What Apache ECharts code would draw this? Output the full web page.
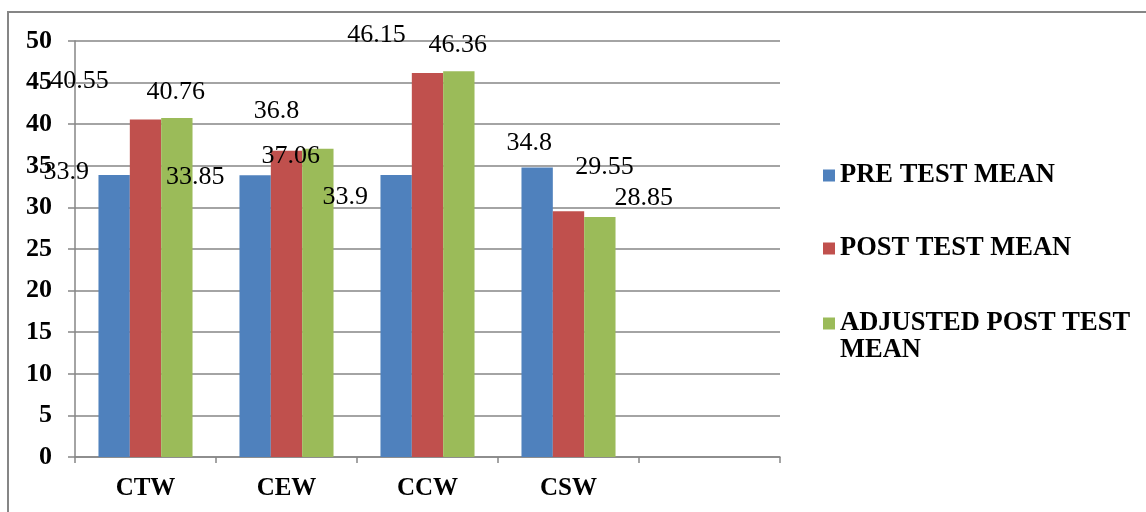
<!DOCTYPE html>
<html>
<head>
<meta charset="utf-8">
<script src="https://cdn.jsdelivr.net/npm/echarts@6/dist/echarts.min.js"></script>
<style>
  html, body { margin: 0; padding: 0; background: #fff; }
  #chart { width: 1146px; height: 512px; }
</style>
</head>
<body>
<div id="chart"></div>
<script>
// Category names (the last slot is an empty group)
const categories = ['CTW', 'CEW', 'CCW', 'CSW', ''];

// Mean scores per group
const preTestMean = [33.9, 33.85, 33.9, 34.8];
const postTestMean = [40.55, 36.8, 46.15, 29.55];
const adjustedPostTestMean = [40.76, 37.06, 46.36, 28.85];

// Value axis range
const yMin = 0;
const yMax = 50;
const yStep = 5;

// Hand-placed value label shifts [dx, dy] from each bar's top centre
const preLabelShift = [[-48, -3], [-60, 2], [-51, 22], [-8, -24]];
const postLabelShift = [[-66, -38], [-10, -40], [-51, -38], [36, -44]];
const adjLabelShift = [[-1, -26], [-27, 8], [-1, -26], [44, -19]];

const serif = "'Liberation Serif', 'Times New Roman', serif";
const gridGray = '#868686';

function withLabels(values, shifts) {
  return values.map((v, i) => ({ value: v, label: { offset: shifts[i] } }));
}

const valueLabel = {
  show: true,
  position: 'top',
  distance: 0,
  align: 'center',
  verticalAlign: 'middle',
  color: '#000',
  fontFamily: serif,
  fontSize: 26,
  lineHeight: 26
};

const legendText = {
  color: '#000',
  fontFamily: serif,
  fontWeight: 'bold',
  fontSize: 26.5,
  lineHeight: 27
};

function legendAt(name, top, formatter) {
  const l = {
    data: [name],
    left: 823,
    top: top,
    orient: 'vertical',
    icon: 'rect',
    itemWidth: 12,
    itemHeight: 12,
    itemGap: 0,
    padding: 0,
    selectedMode: false,
    textStyle: legendText
  };
  if (formatter) l.formatter = formatter;
  return l;
}

const chart = echarts.init(document.getElementById('chart'), null, { renderer: 'canvas' });

chart.setOption({
  animation: false,
  backgroundColor: '#fff',
  grid: { left: 75, right: 366, top: 41, bottom: 55, containLabel: false },
  graphic: [{
    type: 'polyline',
    shape: { points: [[8, 530], [8, 12], [1160, 12]] },
    style: { stroke: gridGray, lineWidth: 2, fill: null },
    silent: true
  }],
  legend: [
    legendAt('PRE TEST MEAN', 162),
    legendAt('POST TEST MEAN', 235),
    legendAt('ADJUSTED POST TEST MEAN', 283, function () { return '\nADJUSTED POST TEST\nMEAN'; })
  ],
  xAxis: {
    type: 'category',
    data: categories,
    boundaryGap: true,
    axisLine: { show: true, lineStyle: { color: gridGray, width: 1.5 } },
    axisTick: { show: true, alignWithLabel: false, interval: 0, length: 6, lineStyle: { color: gridGray, width: 1.5 } },
    axisLabel: {
      margin: 19,
      color: '#000',
      fontFamily: serif,
      fontWeight: 'bold',
      fontSize: 25,
      interval: 0
    },
    splitLine: { show: false }
  },
  yAxis: {
    type: 'value',
    min: yMin,
    max: yMax,
    interval: yStep,
    axisLine: { show: true, lineStyle: { color: gridGray, width: 1.5 } },
    axisTick: { show: true, length: 7, lineStyle: { color: gridGray, width: 1.5 } },
    axisLabel: {
      margin: 23,
      color: '#000',
      fontFamily: serif,
      fontWeight: 'bold',
      fontSize: 26
    },
    splitLine: { show: true, lineStyle: { color: gridGray, width: 1.5 } }
  },
  series: [
    {
      name: 'PRE TEST MEAN',
      type: 'bar',
      data: withLabels(preTestMean, preLabelShift),
      itemStyle: { color: '#4F81BD' },
      barGap: '0%',
      barCategoryGap: '33.3%',
      label: valueLabel
    },
    {
      name: 'POST TEST MEAN',
      type: 'bar',
      data: withLabels(postTestMean, postLabelShift),
      itemStyle: { color: '#C0504D' },
      barGap: '0%',
      barCategoryGap: '33.3%',
      label: valueLabel
    },
    {
      name: 'ADJUSTED POST TEST MEAN',
      type: 'bar',
      data: withLabels(adjustedPostTestMean, adjLabelShift),
      itemStyle: { color: '#9BBB59' },
      barGap: '0%',
      barCategoryGap: '33.3%',
      label: valueLabel
    }
  ]
});
</script>
</body>
</html>
